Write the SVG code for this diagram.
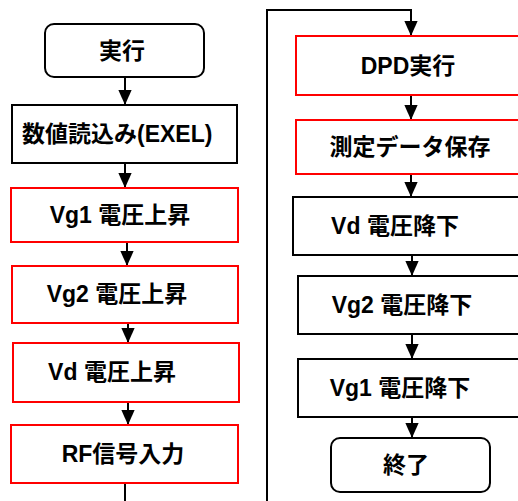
<svg xmlns="http://www.w3.org/2000/svg" width="518" height="501" viewBox="0 0 518 501">
<style>
.box{fill:#fff;stroke:#000;stroke-width:2}
.red{stroke:#ff0000}
.lbl{font-family:"Liberation Sans","Noto Sans CJK JP",sans-serif;font-weight:bold;font-size:23px;fill:#000;text-anchor:middle}
.conn{fill:none;stroke:#000;stroke-width:2}
</style>
<defs>
<marker id="ah" markerUnits="userSpaceOnUse" markerWidth="15" markerHeight="17" refX="17" refY="7.5" orient="auto" viewBox="0 0 17 15">
<path d="M0,0 L17,7.5 L0,15 z" fill="#000"/>
</marker>
</defs>
<rect width="518" height="501" fill="#fff"/>
<g id="connectors">
<line class="conn" x1="125" y1="77" x2="125" y2="105" marker-end="url(#ah)"/>
<line class="conn" x1="125" y1="163" x2="125" y2="188" marker-end="url(#ah)"/>
<line class="conn" x1="127" y1="242" x2="127" y2="266" marker-end="url(#ah)"/>
<line class="conn" x1="128" y1="323" x2="128" y2="343" marker-end="url(#ah)"/>
<line class="conn" x1="128" y1="402" x2="128" y2="425" marker-end="url(#ah)"/>
<line class="conn" x1="125" y1="483" x2="125" y2="501"/>
<polyline class="conn" points="267,501 267,10 411,10 411,36" marker-end="url(#ah)"/>
<line class="conn" x1="411" y1="95" x2="411" y2="120" marker-end="url(#ah)"/>
<line class="conn" x1="411" y1="174" x2="411" y2="197" marker-end="url(#ah)"/>
<line class="conn" x1="412" y1="255" x2="412" y2="276" marker-end="url(#ah)"/>
<line class="conn" x1="412" y1="334" x2="412" y2="359" marker-end="url(#ah)"/>
<line class="conn" x1="412" y1="417" x2="412" y2="438" marker-end="url(#ah)"/>
</g>
<g id="n_start"><rect class="box" x="45" y="24" width="159" height="53" rx="9"/><text class="lbl" x="122" y="59">実行</text></g>
<g id="n_read"><rect class="box" x="12" y="105" width="225" height="58"/><text class="lbl" x="22" y="142" style="text-anchor:start">数値読込み(EXEL)</text></g>
<g id="n_vg1up"><rect class="box red" x="11" y="188" width="227" height="54"/><text class="lbl" x="120" y="223">Vg1 電圧上昇</text></g>
<g id="n_vg2up"><rect class="box red" x="12" y="266" width="226" height="57"/><text class="lbl" x="117" y="302">Vg2 電圧上昇</text></g>
<g id="n_vdup"><rect class="box red" x="13" y="343" width="226" height="59"/><text class="lbl" x="112" y="380">Vd 電圧上昇</text></g>
<g id="n_rf"><rect class="box red" x="11" y="425" width="227" height="58"/><text class="lbl" x="123" y="462">RF信号入力</text></g>
<g id="n_dpd"><rect class="box red" x="296" y="36" width="240" height="59"/><text class="lbl" x="408" y="74">DPD実行</text></g>
<g id="n_save"><rect class="box red" x="296" y="120" width="240" height="54"/><text class="lbl" x="410" y="155">測定データ保存</text></g>
<g id="n_vddown"><rect class="box" x="293" y="197" width="240" height="58"/><text class="lbl" x="395" y="234">Vd 電圧降下</text></g>
<g id="n_vg2down"><rect class="box" x="298" y="276" width="240" height="58"/><text class="lbl" x="402" y="313">Vg2 電圧降下</text></g>
<g id="n_vg1down"><rect class="box" x="298" y="359" width="240" height="58"/><text class="lbl" x="400" y="396">Vg1 電圧降下</text></g>
<g id="n_end"><rect class="box" x="331" y="438" width="159" height="54" rx="9"/><text class="lbl" x="406" y="473">終了</text></g>
</svg>
